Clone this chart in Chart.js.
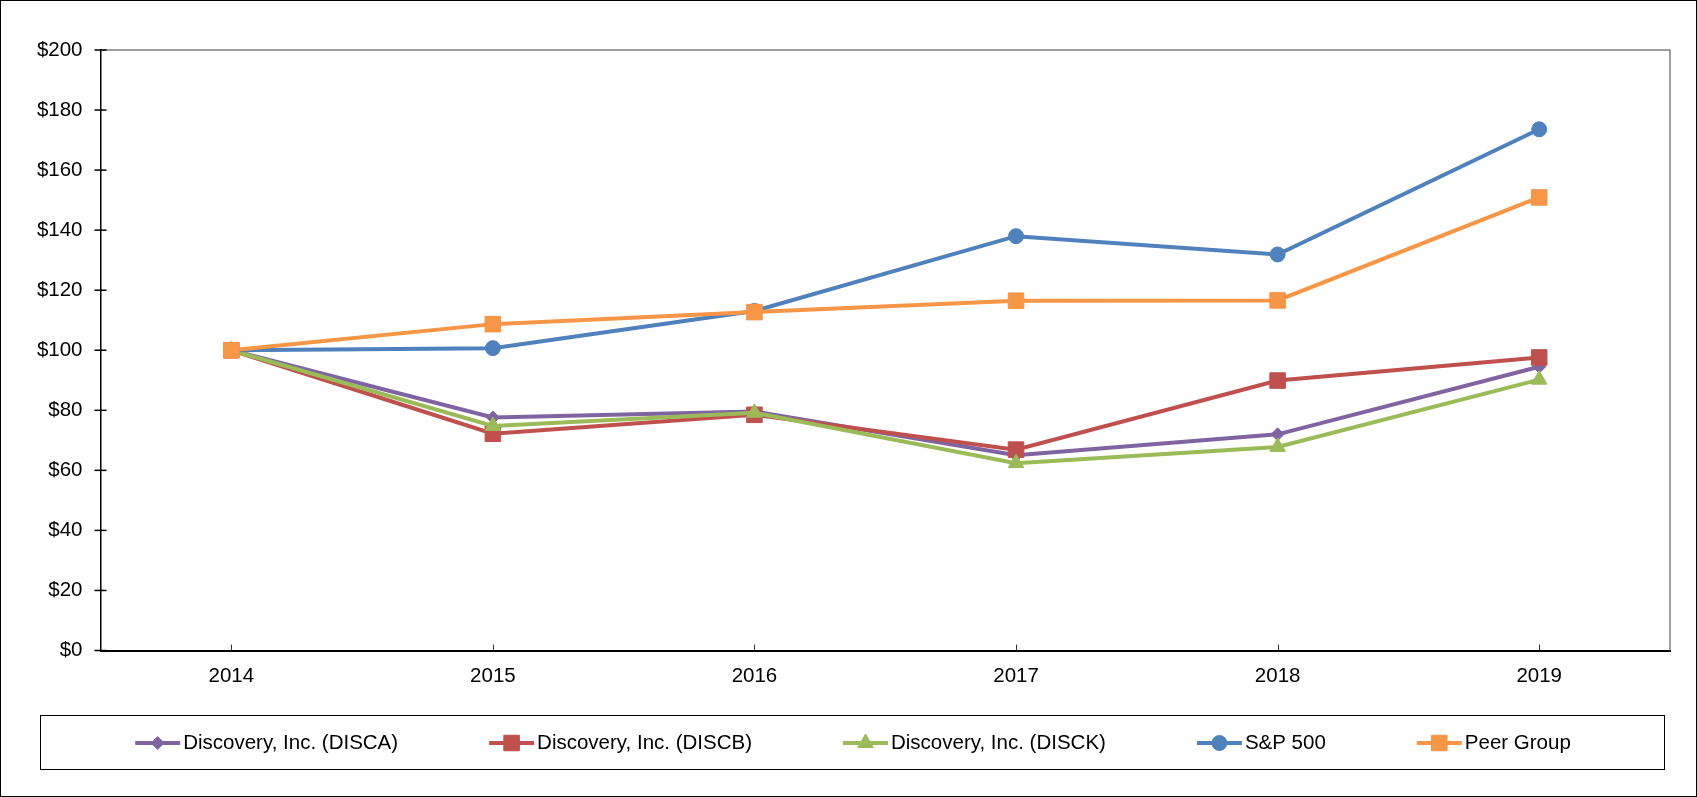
<!DOCTYPE html>
<html>
<head>
<meta charset="utf-8">
<script src="https://cdn.jsdelivr.net/npm/chart.js@4/dist/chart.umd.min.js"></script>
<style>
html,body{margin:0;padding:0;background:#fff;}
#wrap{width:1697px;height:797px;position:relative;}
</style>
</head>
<body>
<div id="wrap"><canvas id="c"></canvas></div>
<script>
const years = ['2014','2015','2016','2017','2018','2019'];
const disca = [100, 77.6, 79.6, 65.0, 72.0, 94.5];
const discb = [100, 72.2, 78.5, 66.9, 89.9, 97.6];
const disck = [100, 74.8, 79.2, 62.4, 67.8, 90.2];
const sp500 = [100, 100.7, 113.1, 138.0, 131.9, 173.6];
const peer  = [100, 108.7, 112.7, 116.5, 116.6, 150.9];
const seriesNames = ['Discovery, Inc. (DISCA)','Discovery, Inc. (DISCB)','Discovery, Inc. (DISCK)','S&P 500','Peer Group'];
const yTicks = [0,20,40,60,80,100,120,140,160,180,200];

const FONT = '"Liberation Sans", Arial, sans-serif';
const FS = 20.5;

const styles = [
  {color:'#8064A2', shape:'rectRot', r:6.5},
  {color:'#C0504D', shape:'rect', r:11},
  {color:'#9BBB59', shape:'triangle', r:9},
  {color:'#4F81BD', shape:'circle', r:7.5},
  {color:'#F79646', shape:'rect', r:11}
];
const values = [disca, discb, disck, sp500, peer];

const datasets = values.map((v,i)=>({
  label: seriesNames[i],
  data: v,
  borderColor: styles[i].color,
  backgroundColor: styles[i].color,
  borderWidth: 4,
  tension: 0,
  pointStyle: styles[i].shape,
  pointRadius: styles[i].r,
  pointBorderWidth: 1,
  pointBorderColor: styles[i].color,
  pointBackgroundColor: styles[i].color,
  order: 5 - i
}));

function marker(ctx, shape, x, y, r, color){
  ctx.save();
  ctx.fillStyle = color; ctx.strokeStyle = color; ctx.lineWidth = 1;
  ctx.beginPath();
  if (shape === 'circle') { ctx.arc(x, y, r, 0, Math.PI*2); }
  else if (shape === 'rect') { const s = Math.SQRT1_2*r; ctx.rect(x-s, y-s, 2*s, 2*s); }
  else if (shape === 'rectRot') { ctx.moveTo(x-r,y); ctx.lineTo(x,y-r); ctx.lineTo(x+r,y); ctx.lineTo(x,y+r); ctx.closePath(); }
  else if (shape === 'triangle') {
    let rad = 0;
    ctx.moveTo(x + Math.sin(rad)*r, y - Math.cos(rad)*r);
    rad += 2*Math.PI/3; ctx.lineTo(x + Math.sin(rad)*r, y - Math.cos(rad)*r);
    rad += 2*Math.PI/3; ctx.lineTo(x + Math.sin(rad)*r, y - Math.cos(rad)*r);
    ctx.closePath();
  }
  ctx.fill(); ctx.stroke();
  ctx.restore();
}

const decor = {
  id: 'decor',
  beforeDatasetsDraw(chart){
    const {ctx, chartArea: a} = chart;
    ctx.save();
    ctx.strokeStyle = '#808080'; ctx.lineWidth = 1.5;
    ctx.beginPath();
    ctx.moveTo(a.left, a.top); ctx.lineTo(a.right, a.top); ctx.lineTo(a.right, a.bottom);
    ctx.stroke();
    // y ticks
    const ys = chart.scales.y;
    ctx.strokeStyle = '#000'; ctx.lineWidth = 1.5;
    yTicks.forEach(t=>{
      const py = ys.getPixelForValue(t);
      ctx.beginPath(); ctx.moveTo(a.left-6, py); ctx.lineTo(a.left+6, py); ctx.stroke();
    });
    // x ticks
    const xs = chart.scales.x;
    ctx.lineWidth = 1; ctx.strokeStyle = '#333';
    years.forEach((_,i)=>{
      const px = Math.round(xs.getPixelForValue(i)) + 0.5;
      ctx.beginPath(); ctx.moveTo(px, a.bottom-6); ctx.lineTo(px, a.bottom); ctx.stroke();
    });
    ctx.restore();
  },
  afterDraw(chart){
    const ctx = chart.ctx;
    ctx.save();
    // outer frame
    ctx.strokeStyle = '#000'; ctx.lineWidth = 1;
    ctx.strokeRect(0.5, 0.5, 1696, 796);
    // legend box
    ctx.strokeRect(40.5, 715.5, 1624, 54);
    // legend items
    ctx.font = FS + 'px ' + FONT;
    ctx.textBaseline = 'middle';
    ctx.textAlign = 'left';
    const symW = 45, txtOff = 48, gap = 91;
    const widths = seriesNames.map(n => txtOff + ctx.measureText(n).width);
    const total = widths.reduce((s,w)=>s+w,0) + gap*(seriesNames.length-1);
    let x = 853 - total/2;
    const y = 743;
    seriesNames.forEach((n,i)=>{
      const st = styles[i];
      ctx.strokeStyle = st.color; ctx.lineWidth = 4;
      ctx.beginPath(); ctx.moveTo(x, y); ctx.lineTo(x+symW, y); ctx.stroke();
      marker(ctx, st.shape, x+symW/2, y, st.r, st.color);
      ctx.fillStyle = '#000';
      ctx.fillText(n, x+txtOff, y);
      x += widths[i] + gap;
    });
    ctx.restore();
  }
};

new Chart(document.getElementById('c'), {
  type: 'line',
  data: { labels: years, datasets },
  options: {
    responsive: true,
    maintainAspectRatio: false,
    devicePixelRatio: 1,
    animation: false,
    layout: { padding: { top: 50, right: 27, left: 0, bottom: 0 } },
    plugins: { legend: { display: false }, tooltip: { enabled: false } },
    scales: {
      x: {
        offset: true,
        grid: { display: true, drawOnChartArea: false, drawTicks: false },
        border: { color: '#000', width: 2 },
        ticks: { color: '#000', font: { family: FONT, size: FS }, padding: 14, maxRotation: 0 },
        afterFit(s){ s.height = 146.5; }
      },
      y: {
        min: 0, max: 200,
        afterBuildTicks(s){ s.ticks = yTicks.map(v=>({value:v})); },
        grid: { display: true, drawOnChartArea: false, drawTicks: false },
        border: { color: '#000', width: 1.5 },
        ticks: { color: '#000', font: { family: FONT, size: FS }, padding: 18, callback: v => '$' + v },
        afterFit(s){ s.width = 100.5; }
      }
    }
  },
  plugins: [decor]
});
</script>
</body>
</html>
